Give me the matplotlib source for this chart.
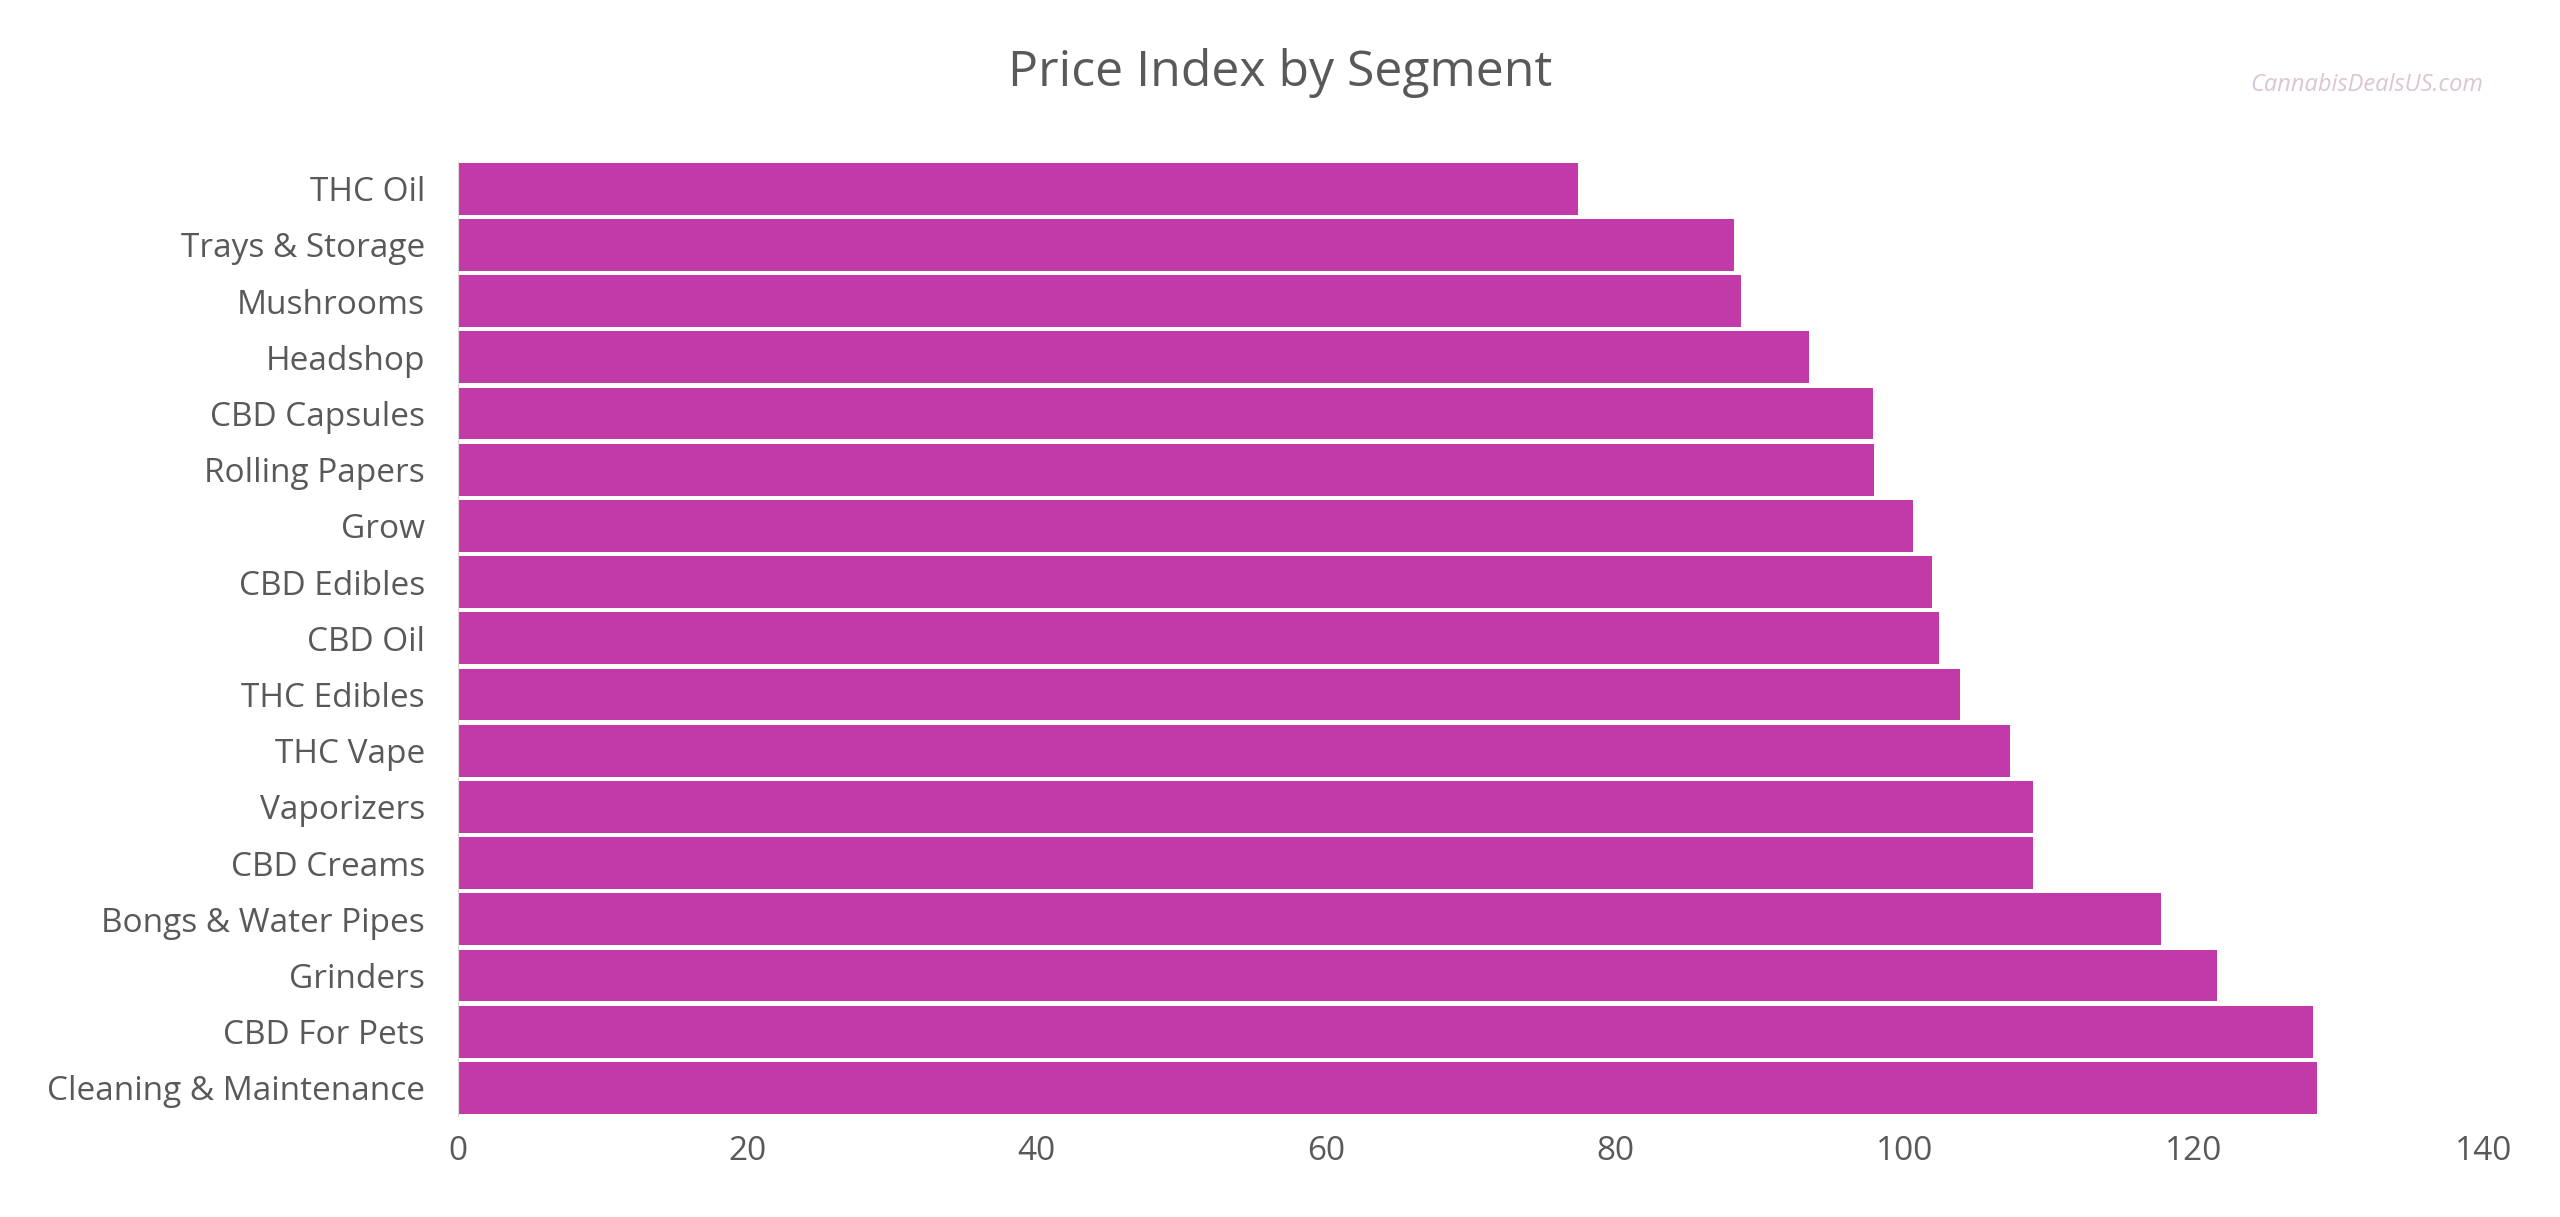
import matplotlib
matplotlib.use("agg")
import matplotlib.pyplot as plt

segments = ["THC Oil", "Trays & Storage", "Mushrooms", "Headshop", "CBD Capsules",
            "Rolling Papers", "Grow", "CBD Edibles", "CBD Oil", "THC Edibles",
            "THC Vape", "Vaporizers", "CBD Creams", "Bongs & Water Pipes",
            "Grinders", "CBD For Pets", "Cleaning & Maintenance"]
price_index = [77.4, 88.2, 88.7, 93.4, 97.8, 97.9, 100.6, 101.9, 102.4, 103.8,
               107.3, 108.9, 108.9, 117.7, 121.6, 128.2, 128.5]
xticks = [0, 20, 40, 60, 80, 100, 120, 140]

plt.rcParams["font.family"] = ["Open Sans", "DejaVu Sans"]

fig = plt.figure(figsize=(25.6, 12.17), dpi=100)
ax = fig.add_axes([0.179, 0.083, 0.791, 0.785])

y = list(range(len(segments)))
ax.barh(y, price_index, height=0.92, color="#C23AA8")
ax.set_yticks(y)
ax.set_yticklabels(segments, fontsize=24, color="#595959")
ax.set_ylim(len(segments) - 0.5, -0.5)
ax.set_xlim(0, 140)
ax.set_xticks(xticks)
ax.set_xticklabels([str(v) for v in xticks], fontsize=24, color="#595959")
ax.tick_params(axis="y", length=0, pad=24)
ax.tick_params(axis="x", length=0, pad=14)
for s in ("top", "right", "bottom"):
    ax.spines[s].set_visible(False)
ax.spines["left"].set_color("#D9D9D9")

fig.text(0.5, 0.94, "Price Index by Segment", ha="center", va="center",
         fontsize=36, color="#595959")
fig.text(0.97, 0.93, "CannabisDealsUS.com", ha="right", va="center",
         fontsize=17, style="italic", color="#DCC4D4")

fig.savefig("out.png", dpi=100)
